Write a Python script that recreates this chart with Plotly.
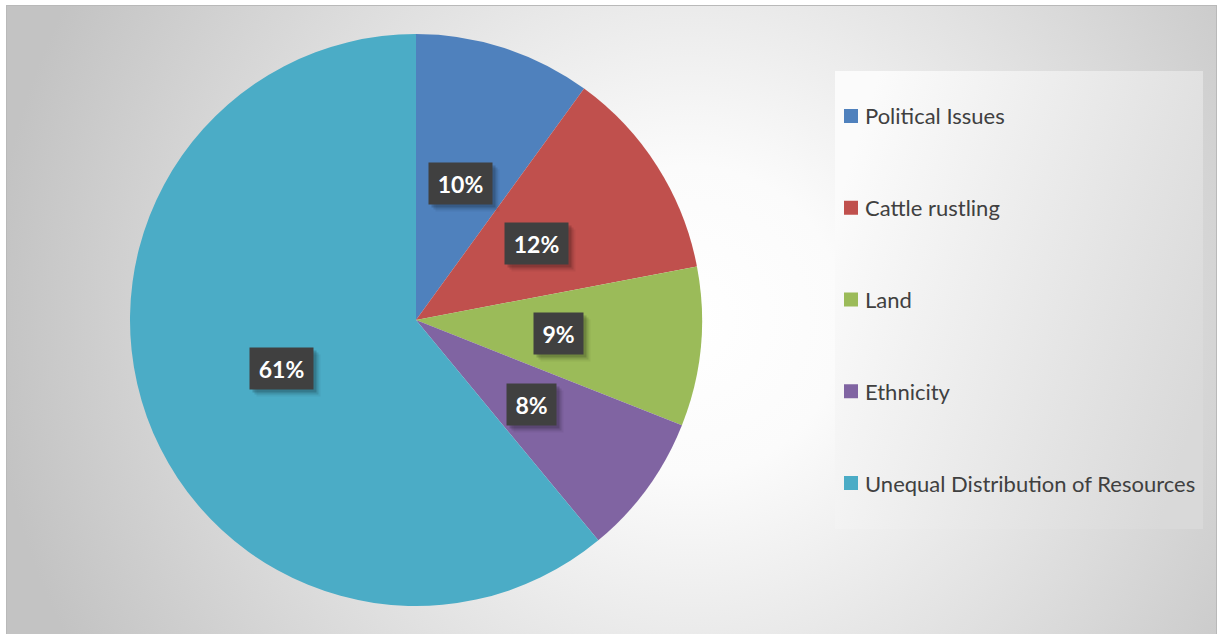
import base64
import math
import plotly.graph_objects as go

# Causes of conflict and their share of responses (%)
categories = ["Political Issues", "Cattle rustling", "Land", "Ethnicity",
              "Unequal Distribution of Resources"]
shares = [10, 12, 9, 8, 61]
colors = ["#4F81BD", "#C0504D", "#9BBB59", "#8064A2", "#4BACC6"]

W, H = 1221, 634
CX, CY, R = 416, 320, 286          # pie centre and radius in pixels

# Backdrop: framed chart area with a radial grey fade, plus a legend panel
svg = f"""<svg xmlns='http://www.w3.org/2000/svg' width='{W}' height='{H}' viewBox='0 0 {W} {H}'>
<defs>
<radialGradient id='bg' gradientUnits='userSpaceOnUse' cx='690' cy='320' r='700'>
<stop offset='0' stop-color='#ffffff'/>
<stop offset='0.22' stop-color='#fbfbfb'/>
<stop offset='1' stop-color='#c3c3c3'/>
</radialGradient>
<linearGradient id='lg' x1='0' y1='0.3' x2='1' y2='0.7'>
<stop offset='0' stop-color='#fbfbfb'/>
<stop offset='1' stop-color='#d9d9d9'/>
</linearGradient>
</defs>
<rect x='6.5' y='5.5' width='1210' height='640' fill='url(#bg)' stroke='#b9b9b9' stroke-width='1'/>
<rect x='835' y='71' width='368' height='458' fill='url(#lg)'/>
</svg>"""
bg_src = "data:image/svg+xml;base64," + base64.b64encode(svg.encode()).decode()

fig = go.Figure()
fig.add_trace(go.Pie(
    labels=categories,
    values=shares,
    sort=False,
    direction="clockwise",
    rotation=0,
    marker=dict(colors=colors, line=dict(width=0)),
    textinfo="none",
    hoverinfo="label+percent",
    showlegend=False,
    domain=dict(x=[(CX - R) / W, (CX + R) / W],
                y=[1 - (CY + R) / H, 1 - (CY - R) / H]),
))

annotations = []
shapes = []
total = sum(shares)
cum = 0
for val in shares:
    mid = (cum + val / 2) / total * 2 * math.pi
    cum += val
    px = CX + 0.5 * R * math.sin(mid)
    py = CY - 0.5 * R * math.cos(mid)
    txt = f"{round(val / total * 100)}%"
    box_w = 14 * len(txt) + 21      # label box grows with the digit count
    box_h = 41
    # soft drop shadow under each data label (empty boxes)
    for shift, alpha in [(7, 0.05), (5, 0.10), (3, 0.16)]:
        annotations.append(dict(
            x=px / W, y=1 - py / H, xref="paper", yref="paper",
            xanchor="center", yanchor="middle",
            text="&nbsp;", showarrow=False,
            width=box_w, height=box_h, borderpad=0,
            font=dict(family="Lato", size=10, color="rgba(0,0,0,0)"),
            bgcolor=f"rgba(0,0,0,{alpha})",
            xshift=shift, yshift=-shift,
        ))
    annotations.append(dict(
        x=px / W, y=1 - py / H, xref="paper", yref="paper",
        xanchor="center", yanchor="middle",
        text=f"<b>{txt}</b>", showarrow=False,
        width=box_w, height=box_h, borderpad=0, align="center", valign="middle",
        font=dict(family="Lato", size=23, color="white"),
        bgcolor="#404040",
    ))

# Legend entries: coloured square and label, evenly spaced down the panel
for i, (name, col) in enumerate(zip(categories, colors)):
    yc = 116 + i * 91.75
    shapes.append(dict(
        type="rect", xref="paper", yref="paper",
        x0=844 / W, x1=858 / W,
        y0=1 - (yc + 7) / H, y1=1 - (yc - 7) / H,
        fillcolor=col, line=dict(width=0),
    ))
    annotations.append(dict(
        x=863 / W, y=1 - yc / H, xref="paper", yref="paper",
        xanchor="left", yanchor="middle",
        text=name, showarrow=False,
        font=dict(family="Lato", size=22, color="#404040"),
    ))

fig.update_layout(
    width=W, height=H,
    margin=dict(l=0, r=0, t=0, b=0),
    paper_bgcolor="white",
    plot_bgcolor="rgba(0,0,0,0)",
    images=[dict(source=bg_src, xref="paper", yref="paper", x=0, y=1,
                 sizex=1, sizey=1, sizing="stretch", layer="below",
                 xanchor="left", yanchor="top")],
    annotations=annotations,
    shapes=shapes,
)

fig.write_html("out.html")
